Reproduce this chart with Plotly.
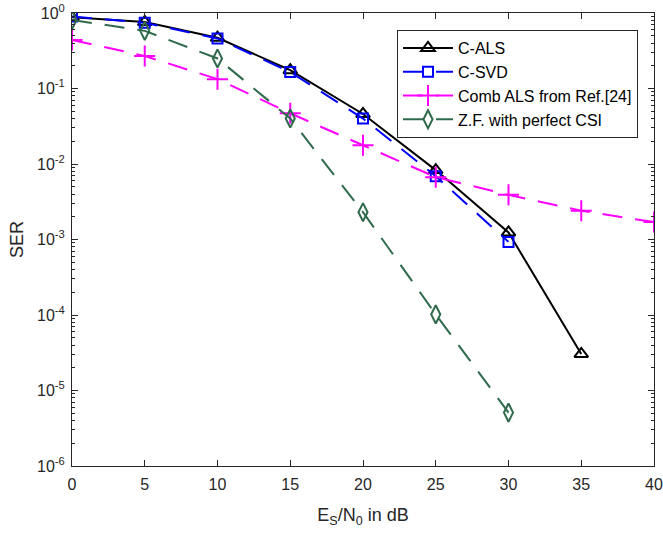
import plotly.graph_objects as go

# SNR grid (dB)
snr = [0, 5, 10, 15, 20, 25, 30, 35, 40]

# Symbol error rates per receiver
ser_c_als = [0.88, 0.76, 0.47, 0.175, 0.046, 0.0083, 0.00124, 3.05e-5]
ser_c_svd = [0.90, 0.74, 0.46, 0.165, 0.040, 0.0069, 0.00093]
ser_comb_als = [0.44, 0.27, 0.133, 0.047, 0.0177, 0.0067, 0.0039, 0.0024, 0.0017]
ser_zf = [0.81, 0.58, 0.25, 0.040, 0.0023, 1.02e-4, 5.1e-6]

y_tickvals = [1e0, 1e-1, 1e-2, 1e-3, 1e-4, 1e-5, 1e-6]
y_ticktext = ["10<sup>0</sup>", "10<sup>-1</sup>", "10<sup>-2</sup>", "10<sup>-3</sup>",
              "10<sup>-4</sup>", "10<sup>-5</sup>", "10<sup>-6</sup>"]
x_tickvals = [0, 5, 10, 15, 20, 25, 30, 35, 40]

dash = "20px,13px"
green = "#2f6a4c"

fig = go.Figure()
fig.add_trace(go.Scatter(
    x=snr[:len(ser_c_als)], y=ser_c_als, name="C-ALS", mode="lines+markers",
    line=dict(color="black", width=2),
    marker=dict(symbol="triangle-up-open", size=12, color="black", line=dict(width=2)),
))
fig.add_trace(go.Scatter(
    x=snr[:len(ser_c_svd)], y=ser_c_svd, name="C-SVD", mode="lines+markers",
    line=dict(color="#0000ff", width=2, dash=dash),
    marker=dict(symbol="square-open", size=10, color="#0000ff", line=dict(width=2)),
))
fig.add_trace(go.Scatter(
    x=snr[:len(ser_comb_als)], y=ser_comb_als, name="Comb ALS from Ref.[24]", mode="lines+markers",
    line=dict(color="#ff00ff", width=2, dash=dash),
    marker=dict(symbol="cross-thin-open", size=15, color="#ff00ff", line=dict(width=2, color="#ff00ff")),
))
fig.add_trace(go.Scatter(
    x=snr[:len(ser_zf)], y=ser_zf, name="Z.F. with perfect CSI", mode="lines+markers",
    line=dict(color=green, width=2, dash=dash),
    marker=dict(symbol="diamond-tall-open", size=13, color=green, line=dict(width=2)),
))

axis_color = "#262626"
fig.update_layout(
    width=663, height=533,
    margin=dict(l=72, r=9, t=13, b=67, autoexpand=False),
    paper_bgcolor="white", plot_bgcolor="white",
    font=dict(family="Liberation Sans, Arial, sans-serif", size=15, color="#262626"),
    showlegend=True,
    legend=dict(
        x=0.9725, y=0.9625, xanchor="right", yanchor="top",
        bgcolor="white", bordercolor="#262626", borderwidth=1,
        font=dict(size=16, color="black"),
        tracegroupgap=0, itemwidth=50,
    ),
    xaxis=dict(
        range=[0, 40], tickvals=x_tickvals, ticks="inside", ticklen=6,
        showline=True, linecolor=axis_color, linewidth=1, mirror="ticks",
        tickcolor=axis_color, showgrid=False, zeroline=False, automargin=False,
        tickfont=dict(size=16), ticklabelstandoff=4,
        title=dict(text="E<sub>S</sub>/N<sub>0</sub> in dB", font=dict(size=18), standoff=16),
    ),
    yaxis=dict(
        type="log", range=[-6, 0], tickvals=y_tickvals, ticktext=y_ticktext,
        ticks="inside", ticklen=6, automargin=False,
        showline=True, linecolor=axis_color, linewidth=1, mirror="ticks",
        tickcolor=axis_color, showgrid=False, zeroline=False,
        tickfont=dict(size=16), ticklabelstandoff=3,
        minor=dict(ticks="inside", ticklen=3, dtick="D1", tickcolor=axis_color, showgrid=False),
        title=dict(text="SER", font=dict(size=18), standoff=8),
    ),
)

fig.write_html("out.html")
